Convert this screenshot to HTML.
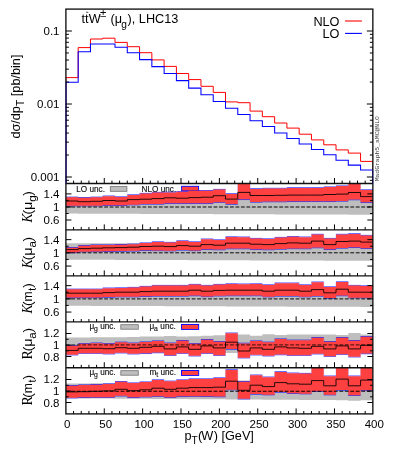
<!DOCTYPE html>
<html><head><meta charset="utf-8"><title>ttW pT(W)</title>
<style>html,body{margin:0;padding:0;background:#fff}svg{display:block;will-change:transform;opacity:0.999}text{white-space:pre}</style></head>
<body>
<svg width="395" height="460" viewBox="0 0 395 460">
<rect width="395" height="460" fill="#fff"/>
<defs>
<clipPath id="c0"><rect x="65.9" y="9.1" width="306.95" height="174.4"/></clipPath>
<clipPath id="c1"><rect x="65.9" y="183.5" width="306.95" height="46.4"/></clipPath>
<clipPath id="c2"><rect x="65.9" y="229.9" width="306.95" height="46"/></clipPath>
<clipPath id="c3"><rect x="65.9" y="275.9" width="306.95" height="46"/></clipPath>
<clipPath id="c4"><rect x="65.9" y="321.9" width="306.95" height="45.8"/></clipPath>
<clipPath id="c5"><rect x="65.9" y="367.7" width="306.95" height="46.2"/></clipPath>
</defs>
<g clip-path="url(#c0)" fill="none" stroke-linejoin="miter">
<path d="M65.9,183.5 L65.9,77.6 L78.18,77.6 L78.18,47.6 L90.46,47.6 L90.46,39 L102.73,39 L102.73,38.2 L115.01,38.2 L115.01,42.4 L127.29,42.4 L127.29,46.7 L139.57,46.7 L139.57,52.7 L151.85,52.7 L151.85,59.9 L164.12,59.9 L164.12,66.4 L176.4,66.4 L176.4,73.5 L188.68,73.5 L188.68,79.6 L200.96,79.6 L200.96,86.3 L213.24,86.3 L213.24,92.4 L225.51,92.4 L225.51,101.9 L237.79,101.9 L237.79,102.7 L250.07,102.7 L250.07,111.1 L262.35,111.1 L262.35,116.7 L274.63,116.7 L274.63,123 L286.9,123 L286.9,128.1 L299.18,128.1 L299.18,134.2 L311.46,134.2 L311.46,139.9 L323.74,139.9 L323.74,144.8 L336.02,144.8 L336.02,149.9 L348.29,149.9 L348.29,153.1 L360.57,153.1 L360.57,161.4 L372.85,161.4 L372.85,183.5" stroke="#ff0000" stroke-width="1.0"/>
<path d="M65.9,183.5 L65.9,82.2 L78.18,82.2 L78.18,51.7 L90.46,51.7 L90.46,44 L102.73,44 L102.73,43.9 L115.01,43.9 L115.01,47.2 L127.29,47.2 L127.29,52.7 L139.57,52.7 L139.57,59.6 L151.85,59.6 L151.85,66.6 L164.12,66.6 L164.12,73.5 L176.4,73.5 L176.4,80.6 L188.68,80.6 L188.68,88.1 L200.96,88.1 L200.96,94.8 L213.24,94.8 L213.24,101.5 L225.51,101.5 L225.51,108.2 L237.79,108.2 L237.79,114.5 L250.07,114.5 L250.07,120.8 L262.35,120.8 L262.35,126.4 L274.63,126.4 L274.63,132.9 L286.9,132.9 L286.9,138.4 L299.18,138.4 L299.18,144 L311.46,144 L311.46,149.5 L323.74,149.5 L323.74,154.7 L336.02,154.7 L336.02,160.2 L348.29,160.2 L348.29,165.1 L360.57,165.1 L360.57,169.9 L372.85,169.9 L372.85,183.5" stroke="#0000ff" stroke-width="1.05"/>
</g>
<g font-family="Liberation Sans, sans-serif" fill="#111" stroke="#111" stroke-width="0.15" font-size="8.2">
<text x="76.3" y="191.9">LO unc.</text>
</g>
<rect x="110.3" y="186.6" width="16.6" height="4.7" fill="#bebebe" stroke="#707070" stroke-width="0.8"/>
<g font-family="Liberation Sans, sans-serif" fill="#111" stroke="#111" stroke-width="0.15" font-size="8.2">
<text x="141.6" y="191.9">NLO unc.</text>
</g>
<g font-family="Liberation Sans, sans-serif" fill="#111" stroke="#111" stroke-width="0.15" font-size="8.2">
<text x="89.4" y="328.5">μ</text><text x="93.9" y="330.7" font-size="6.8">g</text><text x="97.9" y="328.5"> unc.</text>
</g>
<rect x="120.8" y="324.7" width="17.5" height="4.5" fill="#bebebe" stroke="#707070" stroke-width="0.8"/>
<g font-family="Liberation Sans, sans-serif" fill="#111" stroke="#111" stroke-width="0.15" font-size="8.2">
<text x="89.4" y="374.5">μ</text><text x="93.9" y="376.7" font-size="6.8">g</text><text x="97.9" y="374.5"> unc.</text>
</g>
<rect x="120.8" y="370.7" width="17.5" height="4.5" fill="#bebebe" stroke="#707070" stroke-width="0.8"/>
<g font-family="Liberation Sans, sans-serif" fill="#111" stroke="#111" stroke-width="0.15" font-size="8.2">
<text x="149.6" y="328.5">μ</text><text x="154.1" y="330.7" font-size="6.8">a</text><text x="158.1" y="328.5"> unc.</text>
</g>
<g font-family="Liberation Sans, sans-serif" fill="#111" stroke="#111" stroke-width="0.15" font-size="8.2">
<text x="149.6" y="374.5">m</text><text x="156.2" y="376.7" font-size="6.8">t</text><text x="158.2" y="374.5"> unc.</text>
</g>
<rect x="181.5" y="324.5" width="17.2" height="4.9" fill="#ff4040" stroke="#0000ff" stroke-width="0.9"/>
<rect x="181.5" y="370.5" width="17.2" height="4.9" fill="#ff4040" stroke="#0000ff" stroke-width="0.9"/>
<g clip-path="url(#c1)">
<path d="M65.9,197.2 L78.18,197.2 L78.18,197.17 L90.46,197.17 L90.46,197.15 L102.73,197.15 L102.73,197.12 L115.01,197.12 L115.01,197.1 L127.29,197.1 L127.29,197.07 L139.57,197.07 L139.57,197.05 L151.85,197.05 L151.85,197.02 L164.12,197.02 L164.12,197 L176.4,197 L176.4,196.97 L188.68,196.97 L188.68,196.95 L200.96,196.95 L200.96,196.92 L213.24,196.92 L213.24,196.9 L225.51,196.9 L225.51,196.88 L237.79,196.88 L237.79,196.85 L250.07,196.85 L250.07,196.82 L262.35,196.82 L262.35,196.8 L274.63,196.8 L274.63,196.77 L286.9,196.77 L286.9,196.75 L299.18,196.75 L299.18,196.72 L311.46,196.72 L311.46,196.7 L323.74,196.7 L323.74,196.67 L336.02,196.67 L336.02,196.65 L348.29,196.65 L348.29,196.62 L360.57,196.62 L360.57,196.6 L372.85,196.6 L372.85,214.7 L360.57,214.7 L360.57,214.66 L348.29,214.66 L348.29,214.61 L336.02,214.61 L336.02,214.57 L323.74,214.57 L323.74,214.52 L311.46,214.52 L311.46,214.47 L299.18,214.47 L299.18,214.43 L286.9,214.43 L286.9,214.38 L274.63,214.38 L274.63,214.34 L262.35,214.34 L262.35,214.29 L250.07,214.29 L250.07,214.24 L237.79,214.24 L237.79,214.2 L225.51,214.2 L225.51,214.15 L213.24,214.15 L213.24,214.11 L200.96,214.11 L200.96,214.06 L188.68,214.06 L188.68,214.01 L176.4,214.01 L176.4,213.97 L164.12,213.97 L164.12,213.92 L151.85,213.92 L151.85,213.88 L139.57,213.88 L139.57,213.83 L127.29,213.83 L127.29,213.78 L115.01,213.78 L115.01,213.74 L102.73,213.74 L102.73,213.69 L90.46,213.69 L90.46,213.65 L78.18,213.65 L78.18,213.6 L65.9,213.6Z" fill="#bebebe"/>
<path d="M65.9,197.1 H78.18 M65.9,205.85 H78.18 M78.18,197.6 H90.46 M78.18,205.85 H90.46 M90.46,197.1 H102.73 M90.46,205.85 H102.73 M102.73,196 H115.01 M102.73,205.45 H115.01 M115.01,196.8 H127.29 M115.01,205.45 H127.29 M127.29,194.8 H139.57 M127.29,204.85 H139.57 M139.57,193.4 H151.85 M139.57,204.15 H151.85 M151.85,192.4 H164.12 M151.85,204.15 H164.12 M164.12,192.2 H176.4 M164.12,203.55 H176.4 M176.4,191.6 H188.68 M176.4,203.55 H188.68 M188.68,190.5 H200.96 M188.68,203.55 H200.96 M200.96,190.5 H213.24 M200.96,203.55 H213.24 M213.24,189.4 H225.51 M213.24,202.35 H225.51 M225.51,193.7 H237.79 M225.51,204.25 H237.79 M237.79,180.3 H250.07 M237.79,199.55 H250.07 M250.07,188.7 H262.35 M250.07,202.15 H262.35 M262.35,188.3 H274.63 M262.35,201.75 H274.63 M274.63,188.3 H286.9 M274.63,201.75 H286.9 M286.9,187.7 H299.18 M286.9,201.55 H299.18 M299.18,187.7 H311.46 M299.18,201.55 H311.46 M311.46,187.7 H323.74 M311.46,201.55 H323.74 M323.74,186.9 H336.02 M323.74,201.55 H336.02 M336.02,185.9 H348.29 M336.02,201.15 H348.29 M348.29,180.3 H360.57 M348.29,199.75 H360.57 M360.57,189.8 H372.85 M360.57,202.55 H372.85" fill="none" stroke="#0000ff" stroke-width="0.8" stroke-opacity="0.9"/>
<path d="M78.18,197.3 V197.8 M78.18,205.65 V205.65 M90.46,197.8 V197.3 M90.46,205.65 V205.65 M102.73,197.3 V196.2 M102.73,205.65 V205.25 M115.01,196.2 V197 M115.01,205.25 V205.25 M127.29,197 V195 M127.29,205.25 V204.65 M139.57,195 V193.6 M139.57,204.65 V203.95 M151.85,193.6 V192.6 M151.85,203.95 V203.95 M164.12,192.6 V192.4 M164.12,203.95 V203.35 M176.4,192.4 V191.8 M176.4,203.35 V203.35 M188.68,191.8 V190.7 M188.68,203.35 V203.35 M200.96,190.7 V190.7 M200.96,203.35 V203.35 M213.24,190.7 V189.6 M213.24,203.35 V202.15 M225.51,189.6 V193.9 M225.51,202.15 V204.05 M237.79,193.9 V180.5 M237.79,204.05 V199.35 M250.07,180.5 V188.9 M250.07,199.35 V201.95 M262.35,188.9 V188.5 M262.35,201.95 V201.55 M274.63,188.5 V188.5 M274.63,201.55 V201.55 M286.9,188.5 V187.9 M286.9,201.55 V201.35 M299.18,187.9 V187.9 M299.18,201.35 V201.35 M311.46,187.9 V187.9 M311.46,201.35 V201.35 M323.74,187.9 V187.1 M323.74,201.35 V201.35 M336.02,187.1 V186.1 M336.02,201.35 V200.95 M348.29,186.1 V180.5 M348.29,200.95 V199.55 M360.57,180.5 V190 M360.57,199.55 V202.35" fill="none" stroke="#0000ff" stroke-width="0.8" stroke-opacity="0.25"/>
</g>
<rect x="181.6" y="186.3" width="17" height="4.6" fill="#ff4040" stroke="#0000ff" stroke-width="0.9"/>
<g clip-path="url(#c1)">
<path d="M65.9,197.3 L78.18,197.3 L78.18,197.8 L90.46,197.8 L90.46,197.3 L102.73,197.3 L102.73,196.2 L115.01,196.2 L115.01,197 L127.29,197 L127.29,195 L139.57,195 L139.57,193.6 L151.85,193.6 L151.85,192.6 L164.12,192.6 L164.12,192.4 L176.4,192.4 L176.4,191.8 L188.68,191.8 L188.68,190.7 L200.96,190.7 L200.96,190.7 L213.24,190.7 L213.24,189.6 L225.51,189.6 L225.51,193.9 L237.79,193.9 L237.79,180.5 L250.07,180.5 L250.07,188.9 L262.35,188.9 L262.35,188.5 L274.63,188.5 L274.63,188.5 L286.9,188.5 L286.9,187.9 L299.18,187.9 L299.18,187.9 L311.46,187.9 L311.46,187.9 L323.74,187.9 L323.74,187.1 L336.02,187.1 L336.02,186.1 L348.29,186.1 L348.29,180.5 L360.57,180.5 L360.57,190 L372.85,190 L372.85,202.35 L360.57,202.35 L360.57,199.55 L348.29,199.55 L348.29,200.95 L336.02,200.95 L336.02,201.35 L323.74,201.35 L323.74,201.35 L311.46,201.35 L311.46,201.35 L299.18,201.35 L299.18,201.35 L286.9,201.35 L286.9,201.55 L274.63,201.55 L274.63,201.55 L262.35,201.55 L262.35,201.95 L250.07,201.95 L250.07,199.35 L237.79,199.35 L237.79,204.05 L225.51,204.05 L225.51,202.15 L213.24,202.15 L213.24,203.35 L200.96,203.35 L200.96,203.35 L188.68,203.35 L188.68,203.35 L176.4,203.35 L176.4,203.35 L164.12,203.35 L164.12,203.95 L151.85,203.95 L151.85,203.95 L139.57,203.95 L139.57,204.65 L127.29,204.65 L127.29,205.25 L115.01,205.25 L115.01,205.25 L102.73,205.25 L102.73,205.65 L90.46,205.65 L90.46,205.65 L78.18,205.65 L78.18,205.65 L65.9,205.65Z" fill="#ff4040"/>
<path d="M65.9,207 H372.85" stroke="#000" stroke-opacity="0.95" stroke-width="1.0" stroke-dasharray="3.8 1.67" fill="none"/>
<path d="M65.9,201 L78.18,201 L78.18,201.7 L90.46,201.7 L90.46,201.3 L102.73,201.3 L102.73,200.5 L115.01,200.5 L115.01,201 L127.29,201 L127.29,199.6 L139.57,199.6 L139.57,199.2 L151.85,199.2 L151.85,198.6 L164.12,198.6 L164.12,197.8 L176.4,197.8 L176.4,198.2 L188.68,198.2 L188.68,197.6 L200.96,197.6 L200.96,197.2 L213.24,197.2 L213.24,195.7 L225.51,195.7 L225.51,199.1 L237.79,199.1 L237.79,192.4 L250.07,192.4 L250.07,195.5 L262.35,195.5 L262.35,195.5 L274.63,195.5 L274.63,195.3 L286.9,195.3 L286.9,195.1 L299.18,195.1 L299.18,195.1 L311.46,195.1 L311.46,195.1 L323.74,195.1 L323.74,194.5 L336.02,194.5 L336.02,194.1 L348.29,194.1 L348.29,192.5 L360.57,192.5 L360.57,196.6 L372.85,196.6" fill="none" stroke="#000" stroke-opacity="0.85" stroke-width="1"/>
</g>
<g clip-path="url(#c2)">
<path d="M65.9,243.3 L78.18,243.3 L78.18,243.27 L90.46,243.27 L90.46,243.25 L102.73,243.25 L102.73,243.22 L115.01,243.22 L115.01,243.2 L127.29,243.2 L127.29,243.17 L139.57,243.17 L139.57,243.15 L151.85,243.15 L151.85,243.12 L164.12,243.12 L164.12,243.1 L176.4,243.1 L176.4,243.07 L188.68,243.07 L188.68,243.05 L200.96,243.05 L200.96,243.02 L213.24,243.02 L213.24,243 L225.51,243 L225.51,242.97 L237.79,242.97 L237.79,242.95 L250.07,242.95 L250.07,242.92 L262.35,242.92 L262.35,242.9 L274.63,242.9 L274.63,242.87 L286.9,242.87 L286.9,242.85 L299.18,242.85 L299.18,242.82 L311.46,242.82 L311.46,242.8 L323.74,242.8 L323.74,242.77 L336.02,242.77 L336.02,242.75 L348.29,242.75 L348.29,242.72 L360.57,242.72 L360.57,242.7 L372.85,242.7 L372.85,260.8 L360.57,260.8 L360.57,260.76 L348.29,260.76 L348.29,260.71 L336.02,260.71 L336.02,260.67 L323.74,260.67 L323.74,260.62 L311.46,260.62 L311.46,260.57 L299.18,260.57 L299.18,260.53 L286.9,260.53 L286.9,260.48 L274.63,260.48 L274.63,260.44 L262.35,260.44 L262.35,260.39 L250.07,260.39 L250.07,260.34 L237.79,260.34 L237.79,260.3 L225.51,260.3 L225.51,260.25 L213.24,260.25 L213.24,260.21 L200.96,260.21 L200.96,260.16 L188.68,260.16 L188.68,260.11 L176.4,260.11 L176.4,260.07 L164.12,260.07 L164.12,260.02 L151.85,260.02 L151.85,259.98 L139.57,259.98 L139.57,259.93 L127.29,259.93 L127.29,259.88 L115.01,259.88 L115.01,259.84 L102.73,259.84 L102.73,259.79 L90.46,259.79 L90.46,259.75 L78.18,259.75 L78.18,259.7 L65.9,259.7Z" fill="#bebebe"/>
<path d="M65.9,247.5 H78.18 M65.9,252.65 H78.18 M78.18,245.5 H90.46 M78.18,251.85 H90.46 M90.46,244.9 H102.73 M90.46,251.65 H102.73 M102.73,244.9 H115.01 M102.73,251.45 H115.01 M115.01,244.5 H127.29 M115.01,251.25 H127.29 M127.29,244.1 H139.57 M127.29,251.05 H139.57 M139.57,242.9 H151.85 M139.57,250.55 H151.85 M151.85,241.8 H164.12 M151.85,250.65 H164.12 M164.12,242.4 H176.4 M164.12,250.85 H176.4 M176.4,240.8 H188.68 M176.4,250.15 H188.68 M188.68,241.8 H200.96 M188.68,250.65 H200.96 M200.96,239 H213.24 M200.96,249.55 H213.24 M213.24,239.8 H225.51 M213.24,249.75 H225.51 M225.51,236.8 H237.79 M225.51,248.75 H237.79 M237.79,237 H250.07 M237.79,248.75 H250.07 M250.07,238.4 H262.35 M250.07,249.55 H262.35 M262.35,238.8 H274.63 M262.35,249.75 H274.63 M274.63,237.4 H286.9 M274.63,249.15 H286.9 M286.9,236.6 H299.18 M286.9,248.65 H299.18 M299.18,237 H311.46 M299.18,248.75 H311.46 M311.46,234.3 H323.74 M311.46,247.75 H323.74 M323.74,238.4 H336.02 M323.74,249.55 H336.02 M336.02,234.3 H348.29 M336.02,248.15 H348.29 M348.29,233.7 H360.57 M348.29,247.55 H360.57 M360.57,235.4 H372.85 M360.57,248.55 H372.85" fill="none" stroke="#0000ff" stroke-width="0.8" stroke-opacity="0.9"/>
<path d="M78.18,247.7 V245.7 M78.18,252.45 V251.65 M90.46,245.7 V245.1 M90.46,251.65 V251.45 M102.73,245.1 V245.1 M102.73,251.45 V251.25 M115.01,245.1 V244.7 M115.01,251.25 V251.05 M127.29,244.7 V244.3 M127.29,251.05 V250.85 M139.57,244.3 V243.1 M139.57,250.85 V250.35 M151.85,243.1 V242 M151.85,250.35 V250.45 M164.12,242 V242.6 M164.12,250.45 V250.65 M176.4,242.6 V241 M176.4,250.65 V249.95 M188.68,241 V242 M188.68,249.95 V250.45 M200.96,242 V239.2 M200.96,250.45 V249.35 M213.24,239.2 V240 M213.24,249.35 V249.55 M225.51,240 V237 M225.51,249.55 V248.55 M237.79,237 V237.2 M237.79,248.55 V248.55 M250.07,237.2 V238.6 M250.07,248.55 V249.35 M262.35,238.6 V239 M262.35,249.35 V249.55 M274.63,239 V237.6 M274.63,249.55 V248.95 M286.9,237.6 V236.8 M286.9,248.95 V248.45 M299.18,236.8 V237.2 M299.18,248.45 V248.55 M311.46,237.2 V234.5 M311.46,248.55 V247.55 M323.74,234.5 V238.6 M323.74,247.55 V249.35 M336.02,238.6 V234.5 M336.02,249.35 V247.95 M348.29,234.5 V233.9 M348.29,247.95 V247.35 M360.57,233.9 V235.6 M360.57,247.35 V248.35" fill="none" stroke="#0000ff" stroke-width="0.8" stroke-opacity="0.25"/>
<path d="M65.9,247.7 L78.18,247.7 L78.18,245.7 L90.46,245.7 L90.46,245.1 L102.73,245.1 L102.73,245.1 L115.01,245.1 L115.01,244.7 L127.29,244.7 L127.29,244.3 L139.57,244.3 L139.57,243.1 L151.85,243.1 L151.85,242 L164.12,242 L164.12,242.6 L176.4,242.6 L176.4,241 L188.68,241 L188.68,242 L200.96,242 L200.96,239.2 L213.24,239.2 L213.24,240 L225.51,240 L225.51,237 L237.79,237 L237.79,237.2 L250.07,237.2 L250.07,238.6 L262.35,238.6 L262.35,239 L274.63,239 L274.63,237.6 L286.9,237.6 L286.9,236.8 L299.18,236.8 L299.18,237.2 L311.46,237.2 L311.46,234.5 L323.74,234.5 L323.74,238.6 L336.02,238.6 L336.02,234.5 L348.29,234.5 L348.29,233.9 L360.57,233.9 L360.57,235.6 L372.85,235.6 L372.85,248.35 L360.57,248.35 L360.57,247.35 L348.29,247.35 L348.29,247.95 L336.02,247.95 L336.02,249.35 L323.74,249.35 L323.74,247.55 L311.46,247.55 L311.46,248.55 L299.18,248.55 L299.18,248.45 L286.9,248.45 L286.9,248.95 L274.63,248.95 L274.63,249.55 L262.35,249.55 L262.35,249.35 L250.07,249.35 L250.07,248.55 L237.79,248.55 L237.79,248.55 L225.51,248.55 L225.51,249.55 L213.24,249.55 L213.24,249.35 L200.96,249.35 L200.96,250.45 L188.68,250.45 L188.68,249.95 L176.4,249.95 L176.4,250.65 L164.12,250.65 L164.12,250.45 L151.85,250.45 L151.85,250.35 L139.57,250.35 L139.57,250.85 L127.29,250.85 L127.29,251.05 L115.01,251.05 L115.01,251.25 L102.73,251.25 L102.73,251.45 L90.46,251.45 L90.46,251.65 L78.18,251.65 L78.18,252.45 L65.9,252.45Z" fill="#ff4040"/>
<path d="M65.9,252.8 H372.85" stroke="#000" stroke-opacity="0.95" stroke-width="1.0" stroke-dasharray="3.8 1.67" fill="none"/>
<path d="M65.9,249.6 L78.18,249.6 L78.18,248.6 L90.46,248.6 L90.46,248.2 L102.73,248.2 L102.73,247.8 L115.01,247.8 L115.01,247.6 L127.29,247.6 L127.29,247.2 L139.57,247.2 L139.57,246.5 L151.85,246.5 L151.85,246.2 L164.12,246.2 L164.12,246.6 L176.4,246.6 L176.4,245.6 L188.68,245.6 L188.68,246.2 L200.96,246.2 L200.96,244.6 L213.24,244.6 L213.24,245.2 L225.51,245.2 L225.51,243.2 L237.79,243.2 L237.79,243.2 L250.07,243.2 L250.07,244.2 L262.35,244.2 L262.35,244.6 L274.63,244.6 L274.63,243.6 L286.9,243.6 L286.9,242.9 L299.18,242.9 L299.18,243.2 L311.46,243.2 L311.46,241.1 L323.74,241.1 L323.74,244.6 L336.02,244.6 L336.02,241.5 L348.29,241.5 L348.29,241.1 L360.57,241.1 L360.57,242.1 L372.85,242.1" fill="none" stroke="#000" stroke-opacity="0.85" stroke-width="1"/>
</g>
<g clip-path="url(#c3)">
<path d="M65.9,289.4 L78.18,289.4 L78.18,289.38 L90.46,289.38 L90.46,289.35 L102.73,289.35 L102.73,289.32 L115.01,289.32 L115.01,289.3 L127.29,289.3 L127.29,289.27 L139.57,289.27 L139.57,289.25 L151.85,289.25 L151.85,289.22 L164.12,289.22 L164.12,289.2 L176.4,289.2 L176.4,289.18 L188.68,289.18 L188.68,289.15 L200.96,289.15 L200.96,289.12 L213.24,289.12 L213.24,289.1 L225.51,289.1 L225.51,289.07 L237.79,289.07 L237.79,289.05 L250.07,289.05 L250.07,289.02 L262.35,289.02 L262.35,289 L274.63,289 L274.63,288.97 L286.9,288.97 L286.9,288.95 L299.18,288.95 L299.18,288.93 L311.46,288.93 L311.46,288.9 L323.74,288.9 L323.74,288.88 L336.02,288.88 L336.02,288.85 L348.29,288.85 L348.29,288.82 L360.57,288.82 L360.57,288.8 L372.85,288.8 L372.85,306.9 L360.57,306.9 L360.57,306.86 L348.29,306.86 L348.29,306.81 L336.02,306.81 L336.02,306.77 L323.74,306.77 L323.74,306.72 L311.46,306.72 L311.46,306.67 L299.18,306.67 L299.18,306.63 L286.9,306.63 L286.9,306.58 L274.63,306.58 L274.63,306.54 L262.35,306.54 L262.35,306.49 L250.07,306.49 L250.07,306.44 L237.79,306.44 L237.79,306.4 L225.51,306.4 L225.51,306.35 L213.24,306.35 L213.24,306.31 L200.96,306.31 L200.96,306.26 L188.68,306.26 L188.68,306.21 L176.4,306.21 L176.4,306.17 L164.12,306.17 L164.12,306.12 L151.85,306.12 L151.85,306.08 L139.57,306.08 L139.57,306.03 L127.29,306.03 L127.29,305.98 L115.01,305.98 L115.01,305.94 L102.73,305.94 L102.73,305.89 L90.46,305.89 L90.46,305.85 L78.18,305.85 L78.18,305.8 L65.9,305.8Z" fill="#bebebe"/>
<path d="M65.9,289.1 H78.18 M65.9,297.65 H78.18 M78.18,289.1 H90.46 M78.18,297.65 H90.46 M90.46,289.1 H102.73 M90.46,297.65 H102.73 M102.73,288 H115.01 M102.73,297.25 H115.01 M115.01,287.8 H127.29 M115.01,296.85 H127.29 M127.29,287.4 H139.57 M127.29,296.85 H139.57 M139.57,286.4 H151.85 M139.57,296.45 H151.85 M151.85,285.4 H164.12 M151.85,296.15 H164.12 M164.12,285.4 H176.4 M164.12,296.15 H176.4 M176.4,285.4 H188.68 M176.4,296.15 H188.68 M188.68,284.4 H200.96 M188.68,295.75 H200.96 M200.96,285.4 H213.24 M200.96,296.65 H213.24 M213.24,284.4 H225.51 M213.24,295.95 H225.51 M225.51,283.8 H237.79 M225.51,295.75 H237.79 M237.79,284 H250.07 M237.79,295.75 H250.07 M250.07,283.8 H262.35 M250.07,295.75 H262.35 M262.35,284.8 H274.63 M262.35,296.85 H274.63 M274.63,283 H286.9 M274.63,296.15 H286.9 M286.9,283 H299.18 M286.9,296.15 H299.18 M299.18,284.8 H311.46 M299.18,296.85 H311.46 M311.46,282 H323.74 M311.46,296.15 H323.74 M323.74,286.8 H336.02 M323.74,298.25 H336.02 M336.02,281.8 H348.29 M336.02,295.75 H348.29 M348.29,285.4 H360.57 M348.29,297.85 H360.57 M360.57,285.8 H372.85 M360.57,297.85 H372.85" fill="none" stroke="#0000ff" stroke-width="0.8" stroke-opacity="0.9"/>
<path d="M78.18,289.3 V289.3 M78.18,297.45 V297.45 M90.46,289.3 V289.3 M90.46,297.45 V297.45 M102.73,289.3 V288.2 M102.73,297.45 V297.05 M115.01,288.2 V288 M115.01,297.05 V296.65 M127.29,288 V287.6 M127.29,296.65 V296.65 M139.57,287.6 V286.6 M139.57,296.65 V296.25 M151.85,286.6 V285.6 M151.85,296.25 V295.95 M164.12,285.6 V285.6 M164.12,295.95 V295.95 M176.4,285.6 V285.6 M176.4,295.95 V295.95 M188.68,285.6 V284.6 M188.68,295.95 V295.55 M200.96,284.6 V285.6 M200.96,295.55 V296.45 M213.24,285.6 V284.6 M213.24,296.45 V295.75 M225.51,284.6 V284 M225.51,295.75 V295.55 M237.79,284 V284.2 M237.79,295.55 V295.55 M250.07,284.2 V284 M250.07,295.55 V295.55 M262.35,284 V285 M262.35,295.55 V296.65 M274.63,285 V283.2 M274.63,296.65 V295.95 M286.9,283.2 V283.2 M286.9,295.95 V295.95 M299.18,283.2 V285 M299.18,295.95 V296.65 M311.46,285 V282.2 M311.46,296.65 V295.95 M323.74,282.2 V287 M323.74,295.95 V298.05 M336.02,287 V282 M336.02,298.05 V295.55 M348.29,282 V285.6 M348.29,295.55 V297.65 M360.57,285.6 V286 M360.57,297.65 V297.65" fill="none" stroke="#0000ff" stroke-width="0.8" stroke-opacity="0.25"/>
<path d="M65.9,289.3 L78.18,289.3 L78.18,289.3 L90.46,289.3 L90.46,289.3 L102.73,289.3 L102.73,288.2 L115.01,288.2 L115.01,288 L127.29,288 L127.29,287.6 L139.57,287.6 L139.57,286.6 L151.85,286.6 L151.85,285.6 L164.12,285.6 L164.12,285.6 L176.4,285.6 L176.4,285.6 L188.68,285.6 L188.68,284.6 L200.96,284.6 L200.96,285.6 L213.24,285.6 L213.24,284.6 L225.51,284.6 L225.51,284 L237.79,284 L237.79,284.2 L250.07,284.2 L250.07,284 L262.35,284 L262.35,285 L274.63,285 L274.63,283.2 L286.9,283.2 L286.9,283.2 L299.18,283.2 L299.18,285 L311.46,285 L311.46,282.2 L323.74,282.2 L323.74,287 L336.02,287 L336.02,282 L348.29,282 L348.29,285.6 L360.57,285.6 L360.57,286 L372.85,286 L372.85,297.65 L360.57,297.65 L360.57,297.65 L348.29,297.65 L348.29,295.55 L336.02,295.55 L336.02,298.05 L323.74,298.05 L323.74,295.95 L311.46,295.95 L311.46,296.65 L299.18,296.65 L299.18,295.95 L286.9,295.95 L286.9,295.95 L274.63,295.95 L274.63,296.65 L262.35,296.65 L262.35,295.55 L250.07,295.55 L250.07,295.55 L237.79,295.55 L237.79,295.55 L225.51,295.55 L225.51,295.75 L213.24,295.75 L213.24,296.45 L200.96,296.45 L200.96,295.55 L188.68,295.55 L188.68,295.95 L176.4,295.95 L176.4,295.95 L164.12,295.95 L164.12,295.95 L151.85,295.95 L151.85,296.25 L139.57,296.25 L139.57,296.65 L127.29,296.65 L127.29,296.65 L115.01,296.65 L115.01,297.05 L102.73,297.05 L102.73,297.45 L90.46,297.45 L90.46,297.45 L78.18,297.45 L78.18,297.45 L65.9,297.45Z" fill="#ff4040"/>
<path d="M65.9,298.9 H372.85" stroke="#000" stroke-opacity="0.95" stroke-width="1.0" stroke-dasharray="3.8 1.67" fill="none"/>
<path d="M65.9,293.2 L78.18,293.2 L78.18,293.2 L90.46,293.2 L90.46,293.2 L102.73,293.2 L102.73,292.6 L115.01,292.6 L115.01,292.2 L127.29,292.2 L127.29,292.2 L139.57,292.2 L139.57,291.6 L151.85,291.6 L151.85,291.2 L164.12,291.2 L164.12,291.2 L176.4,291.2 L176.4,291.2 L188.68,291.2 L188.68,290.2 L200.96,290.2 L200.96,291.2 L213.24,291.2 L213.24,290.4 L225.51,290.4 L225.51,290.2 L237.79,290.2 L237.79,290.2 L250.07,290.2 L250.07,290.2 L262.35,290.2 L262.35,291.2 L274.63,291.2 L274.63,290.2 L286.9,290.2 L286.9,290.2 L299.18,290.2 L299.18,291.2 L311.46,291.2 L311.46,289.6 L323.74,289.6 L323.74,292.8 L336.02,292.8 L336.02,289.2 L348.29,289.2 L348.29,292.2 L360.57,292.2 L360.57,292.2 L372.85,292.2" fill="none" stroke="#000" stroke-opacity="0.85" stroke-width="1"/>
</g>
<g clip-path="url(#c4)">
<path d="M65.9,337.4 L78.18,337.4 L78.18,337.4 L90.46,337.4 L90.46,337.3 L102.73,337.3 L102.73,337.3 L115.01,337.3 L115.01,337.2 L127.29,337.2 L127.29,337 L139.57,337 L139.57,336.6 L151.85,336.6 L151.85,336.6 L164.12,336.6 L164.12,335.9 L176.4,335.9 L176.4,336.4 L188.68,336.4 L188.68,336.3 L200.96,336.3 L200.96,335.8 L213.24,335.8 L213.24,335.3 L225.51,335.3 L225.51,335 L237.79,335 L237.79,334.6 L250.07,334.6 L250.07,335.8 L262.35,335.8 L262.35,334.2 L274.63,334.2 L274.63,335 L286.9,335 L286.9,334.6 L299.18,334.6 L299.18,334.6 L311.46,334.6 L311.46,334.6 L323.74,334.6 L323.74,334.6 L336.02,334.6 L336.02,335 L348.29,335 L348.29,333 L360.57,333 L360.57,334.6 L372.85,334.6 L372.85,353.84 L360.57,353.84 L360.57,353.75 L348.29,353.75 L348.29,353.67 L336.02,353.67 L336.02,353.59 L323.74,353.59 L323.74,353.5 L311.46,353.5 L311.46,353.42 L299.18,353.42 L299.18,353.33 L286.9,353.33 L286.9,353.25 L274.63,353.25 L274.63,353.16 L262.35,353.16 L262.35,353.07 L250.07,353.07 L250.07,352.99 L237.79,352.99 L237.79,352.91 L225.51,352.91 L225.51,352.82 L213.24,352.82 L213.24,352.74 L200.96,352.74 L200.96,352.65 L188.68,352.65 L188.68,352.56 L176.4,352.56 L176.4,352.48 L164.12,352.48 L164.12,352.4 L151.85,352.4 L151.85,352.31 L139.57,352.31 L139.57,352.23 L127.29,352.23 L127.29,352.14 L115.01,352.14 L115.01,352.06 L102.73,352.06 L102.73,351.97 L90.46,351.97 L90.46,351.88 L78.18,351.88 L78.18,351.8 L65.9,351.8Z" fill="#bebebe"/>
<path d="M65.9,345.6 H78.18 M65.9,354.95 H78.18 M78.18,343.6 H90.46 M78.18,353.35 H90.46 M90.46,343 H102.73 M90.46,353.35 H102.73 M102.73,343.6 H115.01 M102.73,353.95 H115.01 M115.01,342.1 H127.29 M115.01,352.95 H127.29 M127.29,343 H139.57 M127.29,353.95 H139.57 M139.57,341.9 H151.85 M139.57,353.55 H151.85 M151.85,340.9 H164.12 M151.85,352.75 H164.12 M164.12,343 H176.4 M164.12,355.35 H176.4 M176.4,340.5 H188.68 M176.4,353.35 H188.68 M188.68,343.6 H200.96 M188.68,355.95 H200.96 M200.96,339.5 H213.24 M200.96,353.35 H213.24 M213.24,341.5 H225.51 M213.24,355.35 H225.51 M225.51,333 H237.79 M225.51,349.25 H237.79 M237.79,343.2 H250.07 M237.79,357.95 H250.07 M250.07,340.9 H262.35 M250.07,354.95 H262.35 M262.35,342.1 H274.63 M262.35,355.95 H274.63 M274.63,338.9 H286.9 M274.63,354.75 H286.9 M286.9,340.1 H299.18 M286.9,355.35 H299.18 M299.18,340.1 H311.46 M299.18,355.35 H311.46 M311.46,337.5 H323.74 M311.46,353.95 H323.74 M323.74,341.5 H336.02 M323.74,356.35 H336.02 M336.02,337.5 H348.29 M336.02,354.35 H348.29 M348.29,340.5 H360.57 M348.29,356.95 H360.57 M360.57,336.5 H372.85 M360.57,353.75 H372.85" fill="none" stroke="#0000ff" stroke-width="0.8" stroke-opacity="0.9"/>
<path d="M78.18,345.8 V343.8 M78.18,354.75 V353.15 M90.46,343.8 V343.2 M90.46,353.15 V353.15 M102.73,343.2 V343.8 M102.73,353.15 V353.75 M115.01,343.8 V342.3 M115.01,353.75 V352.75 M127.29,342.3 V343.2 M127.29,352.75 V353.75 M139.57,343.2 V342.1 M139.57,353.75 V353.35 M151.85,342.1 V341.1 M151.85,353.35 V352.55 M164.12,341.1 V343.2 M164.12,352.55 V355.15 M176.4,343.2 V340.7 M176.4,355.15 V353.15 M188.68,340.7 V343.8 M188.68,353.15 V355.75 M200.96,343.8 V339.7 M200.96,355.75 V353.15 M213.24,339.7 V341.7 M213.24,353.15 V355.15 M225.51,341.7 V333.2 M225.51,355.15 V349.05 M237.79,333.2 V343.4 M237.79,349.05 V357.75 M250.07,343.4 V341.1 M250.07,357.75 V354.75 M262.35,341.1 V342.3 M262.35,354.75 V355.75 M274.63,342.3 V339.1 M274.63,355.75 V354.55 M286.9,339.1 V340.3 M286.9,354.55 V355.15 M299.18,340.3 V340.3 M299.18,355.15 V355.15 M311.46,340.3 V337.7 M311.46,355.15 V353.75 M323.74,337.7 V341.7 M323.74,353.75 V356.15 M336.02,341.7 V337.7 M336.02,356.15 V354.15 M348.29,337.7 V340.7 M348.29,354.15 V356.75 M360.57,340.7 V336.7 M360.57,356.75 V353.55" fill="none" stroke="#0000ff" stroke-width="0.8" stroke-opacity="0.25"/>
<path d="M65.9,345.8 L78.18,345.8 L78.18,343.8 L90.46,343.8 L90.46,343.2 L102.73,343.2 L102.73,343.8 L115.01,343.8 L115.01,342.3 L127.29,342.3 L127.29,343.2 L139.57,343.2 L139.57,342.1 L151.85,342.1 L151.85,341.1 L164.12,341.1 L164.12,343.2 L176.4,343.2 L176.4,340.7 L188.68,340.7 L188.68,343.8 L200.96,343.8 L200.96,339.7 L213.24,339.7 L213.24,341.7 L225.51,341.7 L225.51,333.2 L237.79,333.2 L237.79,343.4 L250.07,343.4 L250.07,341.1 L262.35,341.1 L262.35,342.3 L274.63,342.3 L274.63,339.1 L286.9,339.1 L286.9,340.3 L299.18,340.3 L299.18,340.3 L311.46,340.3 L311.46,337.7 L323.74,337.7 L323.74,341.7 L336.02,341.7 L336.02,337.7 L348.29,337.7 L348.29,340.7 L360.57,340.7 L360.57,336.7 L372.85,336.7 L372.85,353.55 L360.57,353.55 L360.57,356.75 L348.29,356.75 L348.29,354.15 L336.02,354.15 L336.02,356.15 L323.74,356.15 L323.74,353.75 L311.46,353.75 L311.46,355.15 L299.18,355.15 L299.18,355.15 L286.9,355.15 L286.9,354.55 L274.63,354.55 L274.63,355.75 L262.35,355.75 L262.35,354.75 L250.07,354.75 L250.07,357.75 L237.79,357.75 L237.79,349.05 L225.51,349.05 L225.51,355.15 L213.24,355.15 L213.24,353.15 L200.96,353.15 L200.96,355.75 L188.68,355.75 L188.68,353.15 L176.4,353.15 L176.4,355.15 L164.12,355.15 L164.12,352.55 L151.85,352.55 L151.85,353.35 L139.57,353.35 L139.57,353.75 L127.29,353.75 L127.29,352.75 L115.01,352.75 L115.01,353.75 L102.73,353.75 L102.73,353.15 L90.46,353.15 L90.46,353.15 L78.18,353.15 L78.18,354.75 L65.9,354.75Z" fill="#ff4040"/>
<path d="M65.9,344.9 H372.85" stroke="#000" stroke-opacity="0.8" stroke-width="1.0" stroke-dasharray="3.8 1.67" fill="none"/>
<path d="M65.9,350.4 L78.18,350.4 L78.18,348.3 L90.46,348.3 L90.46,348.3 L102.73,348.3 L102.73,348.7 L115.01,348.7 L115.01,347.7 L127.29,347.7 L127.29,348.3 L139.57,348.3 L139.57,347.3 L151.85,347.3 L151.85,346.3 L164.12,346.3 L164.12,348.9 L176.4,348.9 L176.4,346.9 L188.68,346.9 L188.68,349.3 L200.96,349.3 L200.96,345.9 L213.24,345.9 L213.24,347.9 L225.51,347.9 L225.51,342.2 L237.79,342.2 L237.79,351 L250.07,351 L250.07,347.9 L262.35,347.9 L262.35,349.3 L274.63,349.3 L274.63,346.9 L286.9,346.9 L286.9,347.9 L299.18,347.9 L299.18,348.3 L311.46,348.3 L311.46,346.3 L323.74,346.3 L323.74,348.9 L336.02,348.9 L336.02,345.9 L348.29,345.9 L348.29,348.9 L360.57,348.9 L360.57,345.3 L372.85,345.3" fill="none" stroke="#000" stroke-opacity="0.85" stroke-width="1"/>
</g>
<g clip-path="url(#c5)">
<path d="M65.9,383.4 L78.18,383.4 L78.18,383.4 L90.46,383.4 L90.46,383.3 L102.73,383.3 L102.73,383.3 L115.01,383.3 L115.01,383.2 L127.29,383.2 L127.29,383 L139.57,383 L139.57,382.6 L151.85,382.6 L151.85,382.6 L164.12,382.6 L164.12,381.9 L176.4,381.9 L176.4,382.4 L188.68,382.4 L188.68,382.3 L200.96,382.3 L200.96,381.8 L213.24,381.8 L213.24,381.3 L225.51,381.3 L225.51,381 L237.79,381 L237.79,380.6 L250.07,380.6 L250.07,381.8 L262.35,381.8 L262.35,380.2 L274.63,380.2 L274.63,381 L286.9,381 L286.9,380.6 L299.18,380.6 L299.18,380.6 L311.46,380.6 L311.46,380.6 L323.74,380.6 L323.74,380.6 L336.02,380.6 L336.02,381 L348.29,381 L348.29,379 L360.57,379 L360.57,380.6 L372.85,380.6 L372.85,400.34 L360.57,400.34 L360.57,400.86 L348.29,400.86 L348.29,400.17 L336.02,400.17 L336.02,400.09 L323.74,400.09 L323.74,400 L311.46,400 L311.46,399.92 L299.18,399.92 L299.18,399.83 L286.9,399.83 L286.9,399.75 L274.63,399.75 L274.63,399.66 L262.35,399.66 L262.35,399.57 L250.07,399.57 L250.07,399.49 L237.79,399.49 L237.79,399.41 L225.51,399.41 L225.51,399.32 L213.24,399.32 L213.24,399.24 L200.96,399.24 L200.96,399.15 L188.68,399.15 L188.68,399.06 L176.4,399.06 L176.4,398.98 L164.12,398.98 L164.12,398.9 L151.85,398.9 L151.85,398.81 L139.57,398.81 L139.57,398.73 L127.29,398.73 L127.29,398.64 L115.01,398.64 L115.01,398.56 L102.73,398.56 L102.73,398.47 L90.46,398.47 L90.46,398.38 L78.18,398.38 L78.18,398.3 L65.9,398.3Z" fill="#bebebe"/>
<path d="M65.9,385.5 H78.18 M65.9,397.95 H78.18 M78.18,384.9 H90.46 M78.18,397.55 H90.46 M90.46,384.5 H102.73 M90.46,397.35 H102.73 M102.73,383.9 H115.01 M102.73,397.35 H115.01 M115.01,381.5 H127.29 M115.01,395.95 H127.29 M127.29,382.9 H139.57 M127.29,397.55 H139.57 M139.57,381.9 H151.85 M139.57,396.95 H151.85 M151.85,379.8 H164.12 M151.85,396.35 H164.12 M164.12,381.1 H176.4 M164.12,397.35 H176.4 M176.4,379.8 H188.68 M176.4,396.55 H188.68 M188.68,378.8 H200.96 M188.68,396.35 H200.96 M200.96,378.8 H213.24 M200.96,396.55 H213.24 M213.24,377.8 H225.51 M213.24,396.75 H225.51 M225.51,369.7 H237.79 M225.51,389.85 H237.79 M237.79,381.5 H250.07 M237.79,398.95 H250.07 M250.07,375 H262.35 M250.07,394.25 H262.35 M262.35,377 H274.63 M262.35,394.85 H274.63 M274.63,371.7 H286.9 M274.63,392.25 H286.9 M286.9,373 H299.18 M286.9,393.45 H299.18 M299.18,373.4 H311.46 M299.18,393.85 H311.46 M311.46,360.3 H323.74 M311.46,391.45 H323.74 M323.74,376 H336.02 M323.74,394.85 H336.02 M336.02,360.3 H348.29 M336.02,390.25 H348.29 M348.29,376 H360.57 M348.29,395.45 H360.57 M360.57,360.3 H372.85 M360.57,390.45 H372.85" fill="none" stroke="#0000ff" stroke-width="0.8" stroke-opacity="0.9"/>
<path d="M78.18,385.7 V385.1 M78.18,397.75 V397.35 M90.46,385.1 V384.7 M90.46,397.35 V397.15 M102.73,384.7 V384.1 M102.73,397.15 V397.15 M115.01,384.1 V381.7 M115.01,397.15 V395.75 M127.29,381.7 V383.1 M127.29,395.75 V397.35 M139.57,383.1 V382.1 M139.57,397.35 V396.75 M151.85,382.1 V380 M151.85,396.75 V396.15 M164.12,380 V381.3 M164.12,396.15 V397.15 M176.4,381.3 V380 M176.4,397.15 V396.35 M188.68,380 V379 M188.68,396.35 V396.15 M200.96,379 V379 M200.96,396.15 V396.35 M213.24,379 V378 M213.24,396.35 V396.55 M225.51,378 V369.9 M225.51,396.55 V389.65 M237.79,369.9 V381.7 M237.79,389.65 V398.75 M250.07,381.7 V375.2 M250.07,398.75 V394.05 M262.35,375.2 V377.2 M262.35,394.05 V394.65 M274.63,377.2 V371.9 M274.63,394.65 V392.05 M286.9,371.9 V373.2 M286.9,392.05 V393.25 M299.18,373.2 V373.6 M299.18,393.25 V393.65 M311.46,373.6 V360.5 M311.46,393.65 V391.25 M323.74,360.5 V376.2 M323.74,391.25 V394.65 M336.02,376.2 V360.5 M336.02,394.65 V390.05 M348.29,360.5 V376.2 M348.29,390.05 V395.25 M360.57,376.2 V360.5 M360.57,395.25 V390.25" fill="none" stroke="#0000ff" stroke-width="0.8" stroke-opacity="0.25"/>
<path d="M65.9,385.7 L78.18,385.7 L78.18,385.1 L90.46,385.1 L90.46,384.7 L102.73,384.7 L102.73,384.1 L115.01,384.1 L115.01,381.7 L127.29,381.7 L127.29,383.1 L139.57,383.1 L139.57,382.1 L151.85,382.1 L151.85,380 L164.12,380 L164.12,381.3 L176.4,381.3 L176.4,380 L188.68,380 L188.68,379 L200.96,379 L200.96,379 L213.24,379 L213.24,378 L225.51,378 L225.51,369.9 L237.79,369.9 L237.79,381.7 L250.07,381.7 L250.07,375.2 L262.35,375.2 L262.35,377.2 L274.63,377.2 L274.63,371.9 L286.9,371.9 L286.9,373.2 L299.18,373.2 L299.18,373.6 L311.46,373.6 L311.46,360.5 L323.74,360.5 L323.74,376.2 L336.02,376.2 L336.02,360.5 L348.29,360.5 L348.29,376.2 L360.57,376.2 L360.57,360.5 L372.85,360.5 L372.85,390.25 L360.57,390.25 L360.57,395.25 L348.29,395.25 L348.29,390.05 L336.02,390.05 L336.02,394.65 L323.74,394.65 L323.74,391.25 L311.46,391.25 L311.46,393.65 L299.18,393.65 L299.18,393.25 L286.9,393.25 L286.9,392.05 L274.63,392.05 L274.63,394.65 L262.35,394.65 L262.35,394.05 L250.07,394.05 L250.07,398.75 L237.79,398.75 L237.79,389.65 L225.51,389.65 L225.51,396.55 L213.24,396.55 L213.24,396.35 L200.96,396.35 L200.96,396.15 L188.68,396.15 L188.68,396.35 L176.4,396.35 L176.4,397.15 L164.12,397.15 L164.12,396.15 L151.85,396.15 L151.85,396.75 L139.57,396.75 L139.57,397.35 L127.29,397.35 L127.29,395.75 L115.01,395.75 L115.01,397.15 L102.73,397.15 L102.73,397.15 L90.46,397.15 L90.46,397.35 L78.18,397.35 L78.18,397.75 L65.9,397.75Z" fill="#ff4040"/>
<path d="M65.9,391.25 H372.85" stroke="#000" stroke-opacity="0.95" stroke-width="1.0" stroke-dasharray="3.8 1.67" fill="none"/>
<path d="M65.9,391.9 L78.18,391.9 L78.18,391.7 L90.46,391.7 L90.46,391.3 L102.73,391.3 L102.73,390.9 L115.01,390.9 L115.01,389.3 L127.29,389.3 L127.29,390.7 L139.57,390.7 L139.57,389.8 L151.85,389.8 L151.85,388.2 L164.12,388.2 L164.12,389.3 L176.4,389.3 L176.4,388.2 L188.68,388.2 L188.68,387.6 L200.96,387.6 L200.96,387.6 L213.24,387.6 L213.24,387.2 L225.51,387.2 L225.51,381.2 L237.79,381.2 L237.79,390.3 L250.07,390.3 L250.07,385.2 L262.35,385.2 L262.35,386.6 L274.63,386.6 L274.63,382.6 L286.9,382.6 L286.9,383.8 L299.18,383.8 L299.18,384.2 L311.46,384.2 L311.46,380.6 L323.74,380.6 L323.74,385.8 L336.02,385.8 L336.02,379.1 L348.29,379.1 L348.29,385.8 L360.57,385.8 L360.57,380.1 L372.85,380.1" fill="none" stroke="#000" stroke-opacity="0.85" stroke-width="1"/>
</g>
<g stroke="#111" stroke-width="1.35" fill="none" stroke-linecap="butt">
<rect x="65.9" y="9.1" width="306.95" height="404.8"/>
<path d="M65.9,183.5 H372.85"/>
<path d="M65.9,229.9 H372.85"/>
<path d="M65.9,275.9 H372.85"/>
<path d="M65.9,321.9 H372.85"/>
<path d="M65.9,367.7 H372.85"/>
</g>
<path d="M65.9,82.2 V183.5" stroke="#0000ff" stroke-opacity="0.22" stroke-width="1.5"/>
<path d="M372.85,169.9 V183.5" stroke="#0000ff" stroke-opacity="0.22" stroke-width="1.5"/>
<path d="M73.57,183.5 L73.57,180.6 M81.25,183.5 L81.25,180.6 M88.92,183.5 L88.92,180.6 M96.6,183.5 L96.6,180.6 M104.27,183.5 L104.27,178 M111.94,183.5 L111.94,180.6 M119.62,183.5 L119.62,180.6 M127.29,183.5 L127.29,180.6 M134.96,183.5 L134.96,180.6 M142.64,183.5 L142.64,178 M150.31,183.5 L150.31,180.6 M157.99,183.5 L157.99,180.6 M165.66,183.5 L165.66,180.6 M173.33,183.5 L173.33,180.6 M181.01,183.5 L181.01,178 M188.68,183.5 L188.68,180.6 M196.35,183.5 L196.35,180.6 M204.03,183.5 L204.03,180.6 M211.7,183.5 L211.7,180.6 M219.38,183.5 L219.38,178 M227.05,183.5 L227.05,180.6 M234.72,183.5 L234.72,180.6 M242.4,183.5 L242.4,180.6 M250.07,183.5 L250.07,180.6 M257.74,183.5 L257.74,178 M265.42,183.5 L265.42,180.6 M273.09,183.5 L273.09,180.6 M280.77,183.5 L280.77,180.6 M288.44,183.5 L288.44,180.6 M296.11,183.5 L296.11,178 M303.79,183.5 L303.79,180.6 M311.46,183.5 L311.46,180.6 M319.13,183.5 L319.13,180.6 M326.81,183.5 L326.81,180.6 M334.48,183.5 L334.48,178 M342.16,183.5 L342.16,180.6 M349.83,183.5 L349.83,180.6 M357.5,183.5 L357.5,180.6 M365.18,183.5 L365.18,180.6 M73.57,229.9 L73.57,227 M81.25,229.9 L81.25,227 M88.92,229.9 L88.92,227 M96.6,229.9 L96.6,227 M104.27,229.9 L104.27,224.4 M111.94,229.9 L111.94,227 M119.62,229.9 L119.62,227 M127.29,229.9 L127.29,227 M134.96,229.9 L134.96,227 M142.64,229.9 L142.64,224.4 M150.31,229.9 L150.31,227 M157.99,229.9 L157.99,227 M165.66,229.9 L165.66,227 M173.33,229.9 L173.33,227 M181.01,229.9 L181.01,224.4 M188.68,229.9 L188.68,227 M196.35,229.9 L196.35,227 M204.03,229.9 L204.03,227 M211.7,229.9 L211.7,227 M219.38,229.9 L219.38,224.4 M227.05,229.9 L227.05,227 M234.72,229.9 L234.72,227 M242.4,229.9 L242.4,227 M250.07,229.9 L250.07,227 M257.74,229.9 L257.74,224.4 M265.42,229.9 L265.42,227 M273.09,229.9 L273.09,227 M280.77,229.9 L280.77,227 M288.44,229.9 L288.44,227 M296.11,229.9 L296.11,224.4 M303.79,229.9 L303.79,227 M311.46,229.9 L311.46,227 M319.13,229.9 L319.13,227 M326.81,229.9 L326.81,227 M334.48,229.9 L334.48,224.4 M342.16,229.9 L342.16,227 M349.83,229.9 L349.83,227 M357.5,229.9 L357.5,227 M365.18,229.9 L365.18,227 M73.57,275.9 L73.57,273 M81.25,275.9 L81.25,273 M88.92,275.9 L88.92,273 M96.6,275.9 L96.6,273 M104.27,275.9 L104.27,270.4 M111.94,275.9 L111.94,273 M119.62,275.9 L119.62,273 M127.29,275.9 L127.29,273 M134.96,275.9 L134.96,273 M142.64,275.9 L142.64,270.4 M150.31,275.9 L150.31,273 M157.99,275.9 L157.99,273 M165.66,275.9 L165.66,273 M173.33,275.9 L173.33,273 M181.01,275.9 L181.01,270.4 M188.68,275.9 L188.68,273 M196.35,275.9 L196.35,273 M204.03,275.9 L204.03,273 M211.7,275.9 L211.7,273 M219.38,275.9 L219.38,270.4 M227.05,275.9 L227.05,273 M234.72,275.9 L234.72,273 M242.4,275.9 L242.4,273 M250.07,275.9 L250.07,273 M257.74,275.9 L257.74,270.4 M265.42,275.9 L265.42,273 M273.09,275.9 L273.09,273 M280.77,275.9 L280.77,273 M288.44,275.9 L288.44,273 M296.11,275.9 L296.11,270.4 M303.79,275.9 L303.79,273 M311.46,275.9 L311.46,273 M319.13,275.9 L319.13,273 M326.81,275.9 L326.81,273 M334.48,275.9 L334.48,270.4 M342.16,275.9 L342.16,273 M349.83,275.9 L349.83,273 M357.5,275.9 L357.5,273 M365.18,275.9 L365.18,273 M73.57,321.9 L73.57,319 M81.25,321.9 L81.25,319 M88.92,321.9 L88.92,319 M96.6,321.9 L96.6,319 M104.27,321.9 L104.27,316.4 M111.94,321.9 L111.94,319 M119.62,321.9 L119.62,319 M127.29,321.9 L127.29,319 M134.96,321.9 L134.96,319 M142.64,321.9 L142.64,316.4 M150.31,321.9 L150.31,319 M157.99,321.9 L157.99,319 M165.66,321.9 L165.66,319 M173.33,321.9 L173.33,319 M181.01,321.9 L181.01,316.4 M188.68,321.9 L188.68,319 M196.35,321.9 L196.35,319 M204.03,321.9 L204.03,319 M211.7,321.9 L211.7,319 M219.38,321.9 L219.38,316.4 M227.05,321.9 L227.05,319 M234.72,321.9 L234.72,319 M242.4,321.9 L242.4,319 M250.07,321.9 L250.07,319 M257.74,321.9 L257.74,316.4 M265.42,321.9 L265.42,319 M273.09,321.9 L273.09,319 M280.77,321.9 L280.77,319 M288.44,321.9 L288.44,319 M296.11,321.9 L296.11,316.4 M303.79,321.9 L303.79,319 M311.46,321.9 L311.46,319 M319.13,321.9 L319.13,319 M326.81,321.9 L326.81,319 M334.48,321.9 L334.48,316.4 M342.16,321.9 L342.16,319 M349.83,321.9 L349.83,319 M357.5,321.9 L357.5,319 M365.18,321.9 L365.18,319 M73.57,367.7 L73.57,364.8 M81.25,367.7 L81.25,364.8 M88.92,367.7 L88.92,364.8 M96.6,367.7 L96.6,364.8 M104.27,367.7 L104.27,362.2 M111.94,367.7 L111.94,364.8 M119.62,367.7 L119.62,364.8 M127.29,367.7 L127.29,364.8 M134.96,367.7 L134.96,364.8 M142.64,367.7 L142.64,362.2 M150.31,367.7 L150.31,364.8 M157.99,367.7 L157.99,364.8 M165.66,367.7 L165.66,364.8 M173.33,367.7 L173.33,364.8 M181.01,367.7 L181.01,362.2 M188.68,367.7 L188.68,364.8 M196.35,367.7 L196.35,364.8 M204.03,367.7 L204.03,364.8 M211.7,367.7 L211.7,364.8 M219.38,367.7 L219.38,362.2 M227.05,367.7 L227.05,364.8 M234.72,367.7 L234.72,364.8 M242.4,367.7 L242.4,364.8 M250.07,367.7 L250.07,364.8 M257.74,367.7 L257.74,362.2 M265.42,367.7 L265.42,364.8 M273.09,367.7 L273.09,364.8 M280.77,367.7 L280.77,364.8 M288.44,367.7 L288.44,364.8 M296.11,367.7 L296.11,362.2 M303.79,367.7 L303.79,364.8 M311.46,367.7 L311.46,364.8 M319.13,367.7 L319.13,364.8 M326.81,367.7 L326.81,364.8 M334.48,367.7 L334.48,362.2 M342.16,367.7 L342.16,364.8 M349.83,367.7 L349.83,364.8 M357.5,367.7 L357.5,364.8 M365.18,367.7 L365.18,364.8 M73.57,413.9 L73.57,411 M81.25,413.9 L81.25,411 M88.92,413.9 L88.92,411 M96.6,413.9 L96.6,411 M104.27,413.9 L104.27,408.4 M111.94,413.9 L111.94,411 M119.62,413.9 L119.62,411 M127.29,413.9 L127.29,411 M134.96,413.9 L134.96,411 M142.64,413.9 L142.64,408.4 M150.31,413.9 L150.31,411 M157.99,413.9 L157.99,411 M165.66,413.9 L165.66,411 M173.33,413.9 L173.33,411 M181.01,413.9 L181.01,408.4 M188.68,413.9 L188.68,411 M196.35,413.9 L196.35,411 M204.03,413.9 L204.03,411 M211.7,413.9 L211.7,411 M219.38,413.9 L219.38,408.4 M227.05,413.9 L227.05,411 M234.72,413.9 L234.72,411 M242.4,413.9 L242.4,411 M250.07,413.9 L250.07,411 M257.74,413.9 L257.74,408.4 M265.42,413.9 L265.42,411 M273.09,413.9 L273.09,411 M280.77,413.9 L280.77,411 M288.44,413.9 L288.44,411 M296.11,413.9 L296.11,408.4 M303.79,413.9 L303.79,411 M311.46,413.9 L311.46,411 M319.13,413.9 L319.13,411 M326.81,413.9 L326.81,411 M334.48,413.9 L334.48,408.4 M342.16,413.9 L342.16,411 M349.83,413.9 L349.83,411 M357.5,413.9 L357.5,411 M365.18,413.9 L365.18,411 M65.9,180.34 L68.9,180.34 M372.85,180.34 L369.85,180.34 M65.9,177 L71.9,177 M372.85,177 L366.85,177 M65.9,155.02 L68.9,155.02 M372.85,155.02 L369.85,155.02 M65.9,142.17 L68.9,142.17 M372.85,142.17 L369.85,142.17 M65.9,133.05 L68.9,133.05 M372.85,133.05 L369.85,133.05 M65.9,125.98 L68.9,125.98 M372.85,125.98 L369.85,125.98 M65.9,120.19 L68.9,120.19 M372.85,120.19 L369.85,120.19 M65.9,115.31 L68.9,115.31 M372.85,115.31 L369.85,115.31 M65.9,111.07 L68.9,111.07 M372.85,111.07 L369.85,111.07 M65.9,107.34 L68.9,107.34 M372.85,107.34 L369.85,107.34 M65.9,104 L71.9,104 M372.85,104 L366.85,104 M65.9,82.02 L68.9,82.02 M372.85,82.02 L369.85,82.02 M65.9,69.17 L68.9,69.17 M372.85,69.17 L369.85,69.17 M65.9,60.05 L68.9,60.05 M372.85,60.05 L369.85,60.05 M65.9,52.98 L68.9,52.98 M372.85,52.98 L369.85,52.98 M65.9,47.19 L68.9,47.19 M372.85,47.19 L369.85,47.19 M65.9,42.31 L68.9,42.31 M372.85,42.31 L369.85,42.31 M65.9,38.07 L68.9,38.07 M372.85,38.07 L369.85,38.07 M65.9,34.34 L68.9,34.34 M372.85,34.34 L369.85,34.34 M65.9,31 L71.9,31 M372.85,31 L366.85,31 M65.9,193.9 L71.4,193.9 M372.85,193.9 L367.35,193.9 M65.9,200.4 L68.7,200.4 M372.85,200.4 L370.05,200.4 M65.9,206.95 L71.4,206.95 M372.85,206.95 L367.35,206.95 M65.9,213.5 L68.7,213.5 M372.85,213.5 L370.05,213.5 M65.9,220 L71.4,220 M372.85,220 L367.35,220 M65.9,239.65 L71.4,239.65 M372.85,239.65 L367.35,239.65 M65.9,246.25 L68.7,246.25 M372.85,246.25 L370.05,246.25 M65.9,252.85 L71.4,252.85 M372.85,252.85 L367.35,252.85 M65.9,259.45 L68.7,259.45 M372.85,259.45 L370.05,259.45 M65.9,266.05 L71.4,266.05 M372.85,266.05 L367.35,266.05 M65.9,285.65 L71.4,285.65 M372.85,285.65 L367.35,285.65 M65.9,292.25 L68.7,292.25 M372.85,292.25 L370.05,292.25 M65.9,298.85 L71.4,298.85 M372.85,298.85 L367.35,298.85 M65.9,305.45 L68.7,305.45 M372.85,305.45 L370.05,305.45 M65.9,312.05 L71.4,312.05 M372.85,312.05 L367.35,312.05 M65.9,333.5 L71.4,333.5 M372.85,333.5 L367.35,333.5 M65.9,339.3 L68.7,339.3 M372.85,339.3 L370.05,339.3 M65.9,345.1 L71.4,345.1 M372.85,345.1 L367.35,345.1 M65.9,350.8 L68.7,350.8 M372.85,350.8 L370.05,350.8 M65.9,356.5 L71.4,356.5 M372.85,356.5 L367.35,356.5 M65.9,379.5 L71.4,379.5 M372.85,379.5 L367.35,379.5 M65.9,385.3 L68.7,385.3 M372.85,385.3 L370.05,385.3 M65.9,391.1 L71.4,391.1 M372.85,391.1 L367.35,391.1 M65.9,396.8 L68.7,396.8 M372.85,396.8 L370.05,396.8 M65.9,402.5 L71.4,402.5 M372.85,402.5 L367.35,402.5" stroke="#000" stroke-width="1.0" fill="none"/>
<path d="M345,21.0 H361.9" stroke="#ff0000" stroke-width="1.1"/>
<path d="M345,33.4 H361.9" stroke="#0000ff" stroke-width="1.1"/>
<g font-family="Liberation Sans, sans-serif" fill="#000">
<text x="339.5" y="25.6" font-size="12.7" text-anchor="end">NLO</text>
<text x="339.5" y="38.4" font-size="12.7" text-anchor="end">LO</text>
<text x="81.5" y="22.5" font-size="12.7">tt</text>
<text x="88.7" y="22.5" font-size="12.7">W</text>
<text x="100.1" y="17.2" font-size="11.4">±</text>
<text x="110.6" y="22.5" font-size="12.7">(μ</text>
<text x="121.2" y="27.6" font-size="10.16">g</text>
<text x="127.6" y="22.5" font-size="12.7">), LHC13</text>
<path d="M86.1,12.3 H88.4" stroke="#000" stroke-width="0.7"/>
<text x="59.5" y="35" font-size="11.5" text-anchor="end">0.1</text>
<text x="59.5" y="108" font-size="11.5" text-anchor="end">0.01</text>
<text x="59.5" y="181" font-size="11.5" text-anchor="end">0.001</text>
<text x="59.5" y="198.1" font-size="11.5" text-anchor="end">1.4</text>
<text x="59.5" y="211" font-size="11.5" text-anchor="end">1</text>
<text x="59.5" y="223.9" font-size="11.5" text-anchor="end">0.6</text>
<text x="59.5" y="244.2" font-size="11.5" text-anchor="end">1.4</text>
<text x="59.5" y="257.1" font-size="11.5" text-anchor="end">1</text>
<text x="59.5" y="270" font-size="11.5" text-anchor="end">0.6</text>
<text x="59.5" y="290.3" font-size="11.5" text-anchor="end">1.4</text>
<text x="59.5" y="303.2" font-size="11.5" text-anchor="end">1</text>
<text x="59.5" y="316.1" font-size="11.5" text-anchor="end">0.6</text>
<text x="59.5" y="337.4" font-size="11.5" text-anchor="end">1.2</text>
<text x="59.5" y="349.2" font-size="11.5" text-anchor="end">1</text>
<text x="59.5" y="360.7" font-size="11.5" text-anchor="end">0.8</text>
<text x="59.5" y="383.4" font-size="11.5" text-anchor="end">1.2</text>
<text x="59.5" y="395.2" font-size="11.5" text-anchor="end">1</text>
<text x="59.5" y="406.7" font-size="11.5" text-anchor="end">0.8</text>
<text x="67.3" y="427.6" font-size="11.5" text-anchor="middle">0</text>
<text x="105.67" y="427.6" font-size="11.5" text-anchor="middle">50</text>
<text x="144.04" y="427.6" font-size="11.5" text-anchor="middle">100</text>
<text x="182.41" y="427.6" font-size="11.5" text-anchor="middle">150</text>
<text x="220.78" y="427.6" font-size="11.5" text-anchor="middle">200</text>
<text x="259.14" y="427.6" font-size="11.5" text-anchor="middle">250</text>
<text x="297.51" y="427.6" font-size="11.5" text-anchor="middle">300</text>
<text x="335.88" y="427.6" font-size="11.5" text-anchor="middle">350</text>
<text x="374.25" y="427.6" font-size="11.5" text-anchor="middle">400</text>
<text x="184.6" y="440.0" font-size="12.7">p</text>
<text x="191.5" y="443.7" font-size="10.16">T</text>
<text x="198.0" y="440.0" font-size="12.7">(</text>
<text x="201.3" y="440.0" font-size="12.7">W</text>
<text x="213.7" y="440.0" font-size="12.7">) [GeV]</text>
<g transform="translate(20.0,138.6) rotate(-90)"><text x="0" y="0" font-size="12.7">dσ/dp</text><text x="32.5" y="3.7" font-size="10.16">T</text><text x="38.9" y="0" font-size="12.7"> [pb/bin]</text></g>
<g transform="translate(32.2,222.5) rotate(-90)"><text x="0" y="0" font-size="13.6" font-family="Liberation Serif, serif" font-style="italic" transform="scale(1,1.14)">K</text><text x="8.0" y="0" font-size="13.6">(</text><text x="12.53" y="0" font-size="13.6" transform="translate(12.53,0) scale(1.06,1) translate(-12.53,0)">μ</text><text x="20.66" y="3.4" font-size="11.56">g</text><text x="26.79" y="0" font-size="13.6">)</text></g>
<g transform="translate(32.2,268.2) rotate(-90)"><text x="0" y="0" font-size="13.6" font-family="Liberation Serif, serif" font-style="italic" transform="scale(1,1.14)">K</text><text x="8.0" y="0" font-size="13.6">(</text><text x="12.53" y="0" font-size="13.6" transform="translate(12.53,0) scale(1.06,1) translate(-12.53,0)">μ</text><text x="20.66" y="3.4" font-size="11.56">a</text><text x="26.79" y="0" font-size="13.6">)</text></g>
<g transform="translate(32.2,313.6) rotate(-90)"><text x="0" y="0" font-size="13.6" font-family="Liberation Serif, serif" font-style="italic" transform="scale(1,1.14)">K</text><text x="7.6" y="0" font-size="13.6">(</text><text x="12" y="0" font-size="12.2">m</text><text x="22.9" y="3.4" font-size="10.6">t</text><text x="25.8" y="0" font-size="13.6">)</text></g>
<g transform="translate(32.2,359.3) rotate(-90)"><text x="-0.3" y="0" font-size="14.0" font-family="Liberation Serif, serif" transform="scale(1,0.97)">R</text><text x="8.0" y="0" font-size="13.6">(</text><text x="12.53" y="0" font-size="13.6" transform="translate(12.53,0) scale(1.06,1) translate(-12.53,0)">μ</text><text x="20.66" y="3.4" font-size="11.56">a</text><text x="26.79" y="0" font-size="13.6">)</text></g>
<g transform="translate(32.2,405.3) rotate(-90)"><text x="-0.3" y="0" font-size="14.0" font-family="Liberation Serif, serif" transform="scale(1,0.97)">R</text><text x="7.6" y="0" font-size="13.6">(</text><text x="12" y="0" font-size="12.2">m</text><text x="22.9" y="3.4" font-size="10.6">t</text><text x="25.8" y="0" font-size="13.6">)</text></g>
</g>
<g transform="translate(378.7,181.3) rotate(-90) scale(1,0.8)"><text x="0" y="0" font-family="Liberation Mono, monospace" font-size="6.4" fill="#3a3a3a">MadGraph5_aMC@NLO</text></g>
</svg>
</body></html>
